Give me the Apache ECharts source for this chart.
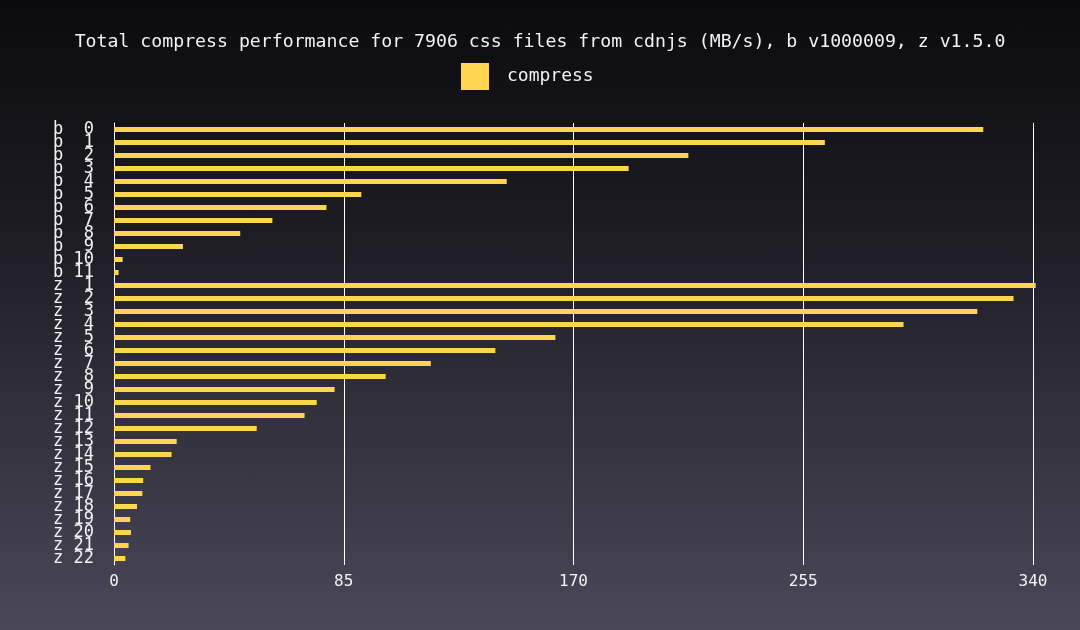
<!DOCTYPE html>
<html>
<head>
<meta charset="utf-8">
<script src="https://cdn.jsdelivr.net/npm/echarts@6/dist/echarts.min.js"></script>
<style>
html,body{margin:0;padding:0;width:1080px;height:630px;overflow:hidden;}
#c{width:1080px;height:630px;background:linear-gradient(to bottom,#0b0b0e 0%,#1c1b22 35%,#35333f 70%,#4a4759 100%);}
</style>
</head>
<body>
<div id="c"></div>
<script>
const categories = ["b  0","b  1","b  2","b  3","b  4","b  5","b  6","b  7","b  8","b  9","b 10","b 11",
  "z  1","z  2","z  3","z  4","z  5","z  6","z  7","z  8","z  9","z 10","z 11","z 12","z 13","z 14","z 15",
  "z 16","z 17","z 18","z 19","z 20","z 21","z 22"];
const compressValues = [321.6,263.0,212.5,190.4,145.3,91.5,78.6,58.6,46.7,25.5,3.2,1.7,
  341.0,332.8,319.4,292.1,163.3,141.1,117.2,100.5,81.6,75.0,70.5,52.8,23.2,21.3,13.5,
  10.8,10.5,8.5,6.0,6.3,5.4,4.2];
const xTicks = [0,85,170,255,340];
const titleText = "Total compress performance for 7906 css files from cdnjs (MB/s), b v1000009, z v1.5.0";
const seriesName = "compress";

const font = "'DejaVu Sans Mono', 'Liberation Mono', monospace";
const chart = echarts.init(document.getElementById('c'), null, {renderer:'canvas'});
chart.setOption({
  backgroundColor: 'transparent',
  animation: false,
  title: {
    text: titleText,
    left: 'center',
    top: 28,
    textStyle: {color:'#f2f2f2', fontFamily: font, fontSize: 18.2, fontWeight:'normal'}
  },
  legend: {
    data: [seriesName],
    top: 58,
    left: 456,
    itemWidth: 28,
    itemHeight: 27,
    itemGap: 10,
    icon: 'rect',
    textStyle: {color:'#f2f2f2', fontFamily: font, fontSize: 18, padding:[0,0,0,13]}
  },
  grid: {left: 114, right: 47, top: 123, bottom: 65, containLabel: false},
  xAxis: {
    type: 'value',
    min: 0, max: 340, interval: 85,
    axisLine: {show:false},
    axisTick: {show:false},
    axisLabel: {color:'#f2f2f2', fontFamily: font, fontSize: 16, margin: 9,
      formatter: v => xTicks.includes(v) ? String(v) : ''},
    splitLine: {show:true, lineStyle:{color:'#ffffff', width:1}}
  },
  yAxis: {
    type: 'category',
    data: categories,
    inverse: true,
    axisLine: {show:true, lineStyle:{color:'#ffffff', width:1}},
    axisTick: {show:false},
    axisLabel: {color:'#f2f2f2', fontFamily: font, fontSize: 17, margin: 20, interval: 0, lineHeight: 12}
  },
  series: [{
    name: seriesName,
    type: 'bar',
    data: compressValues,
    barWidth: 5,
    clip: false,
    itemStyle: {color:'#fdd54e'}
  }]
});
</script>
</body>
</html>
